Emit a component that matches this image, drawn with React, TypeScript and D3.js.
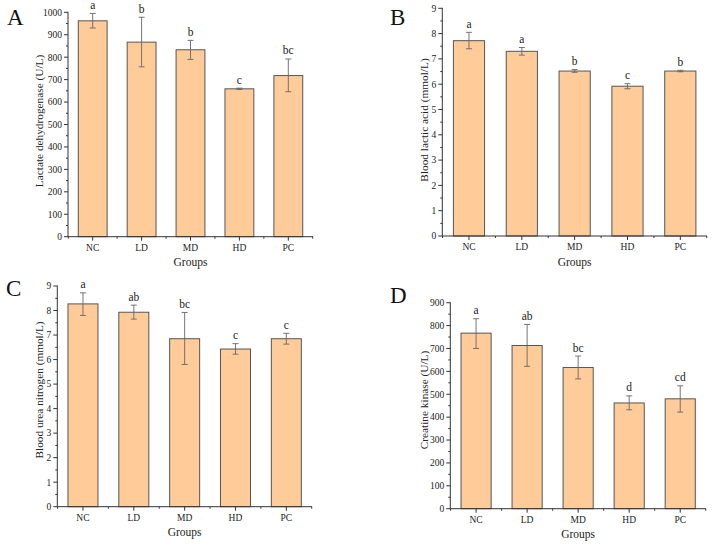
import * as d3 from 'd3';

const groups = ['NC', 'LD', 'MD', 'HD', 'PC'];

const ldhMean = [962, 867, 833, 659, 718];
const ldhLow = [930, 757, 790, 656, 646];
const ldhHigh = [995, 978, 875, 662, 792];
const ldhSig = ['a', 'b', 'b', 'c', 'bc'];

const blaMean = [7.72, 7.3, 6.52, 5.92, 6.52];
const blaLow = [7.4, 7.15, 6.47, 5.82, 6.49];
const blaHigh = [8.05, 7.45, 6.58, 6.02, 6.55];
const blaSig = ['a', 'a', 'b', 'c', 'b'];

const bunMean = [8.27, 7.93, 6.85, 6.43, 6.85];
const bunLow = [7.8, 7.65, 5.8, 6.22, 6.63];
const bunHigh = [8.72, 8.22, 7.92, 6.65, 7.07];
const bunSig = ['a', 'ab', 'bc', 'c', 'c'];

const ckMean = [767, 713, 617, 462, 480];
const ckLow = [700, 622, 567, 432, 422];
const ckHigh = [830, 805, 667, 493, 537];
const ckSig = ['a', 'ab', 'bc', 'd', 'cd'];

const FONT = '"Liberation Serif", "Times New Roman", serif';

type PanelProps = {
  letter: string;
  letterX: number;
  letterY: number;
  yLabel: string;
  mean: number[];
  low: number[];
  high: number[];
  sig: string[];
  yMax: number;
  yStep: number;
  left: number;
  right: number;
  top: number;
  bottom: number;
  labelX: number;
  labelY: number;
};

const Panel = (p: PanelProps) => {
  const x = d3.scaleBand<string>()
    .domain(groups)
    .range([p.left, p.right])
    .paddingInner(0.41)
    .paddingOuter(0.21);
  const y = d3.scaleLinear().domain([0, p.yMax]).range([p.bottom, p.top]);
  const majors = d3.range(0, p.yMax + p.yStep / 2, p.yStep);
  const minors = d3.range(p.yStep / 2, p.yMax, p.yStep);
  const step = x.step();
  const bw = x.bandwidth();
  const centers = groups.map(g => (x(g) as number) + bw / 2);
  const xMinor = [centers[0] - step / 2, ...centers.map(c => c + step / 2)];
  const ink = '#333';

  return (
    <g fontFamily={FONT}>
      <text x={p.letterX} y={p.letterY} fontSize={23} fill="#111">{p.letter}</text>
      {groups.map((g, i) => (
        <rect key={g} x={x(g)} y={y(p.mean[i])} width={bw}
          height={p.bottom - y(p.mean[i])} fill="#FFCC99" stroke="#555" strokeWidth={1} />
      ))}
      {groups.map((g, i) => {
        const cx = centers[i];
        return (
          <g key={'e' + g} stroke="#666" strokeWidth={0.9}>
            <line x1={cx} x2={cx} y1={y(p.low[i])} y2={y(p.high[i])} />
            <line x1={cx - 3} x2={cx + 3} y1={y(p.low[i])} y2={y(p.low[i])} />
            <line x1={cx - 3} x2={cx + 3} y1={y(p.high[i])} y2={y(p.high[i])} />
          </g>
        );
      })}
      {groups.map((g, i) => (
        <text key={'s' + g} x={centers[i]} y={y(p.high[i]) - 4.5} textAnchor="middle"
          fontSize={11.5} fill="#222">{p.sig[i]}</text>
      ))}
      <line x1={p.left} x2={p.left} y1={p.top - 0.5} y2={p.bottom} stroke={ink} strokeWidth={1} />
      <line x1={p.left} x2={p.right} y1={p.bottom} y2={p.bottom} stroke={ink} strokeWidth={1} />
      {majors.map(v => (
        <g key={'y' + v}>
          <line x1={p.left - 4} x2={p.left} y1={y(v)} y2={y(v)} stroke={ink} />
          <text x={p.left - 6} y={y(v)} dy="0.35em" textAnchor="end" fontSize={9.5} fill="#222">{v}</text>
        </g>
      ))}
      {minors.map(v => (
        <line key={'m' + v} x1={p.left - 2} x2={p.left} y1={y(v)} y2={y(v)} stroke={ink} />
      ))}
      {groups.map((g, i) => (
        <g key={'x' + g}>
          <line x1={centers[i]} x2={centers[i]} y1={p.bottom} y2={p.bottom + 4} stroke={ink} />
          <text x={centers[i]} y={p.bottom + 14} textAnchor="middle" fontSize={9.5} fill="#222">{g}</text>
        </g>
      ))}
      {xMinor.map((v, i) => (
        <line key={'xm' + i} x1={v} x2={v} y1={p.bottom} y2={p.bottom + 2} stroke={ink} />
      ))}
      <text x={(p.left + p.right) / 2} y={p.bottom + 29.5} textAnchor="middle" fontSize={11.5} fill="#222">Groups</text>
      <text transform={`translate(${p.labelX},${p.labelY}) rotate(-90)`}
        textAnchor="middle" fontSize={11.3} fill="#222">{p.yLabel}</text>
    </g>
  );
};

export default function App() {
  return (
    <svg width={713} height={548} style={{ display: 'block', position: 'absolute', left: 0, top: 0 }}>
      <rect width={713} height={548} fill="#fff" />
      <Panel letter="A" letterX={7} letterY={25} yLabel="Lactate dehydrogenase (U/L)"
        mean={ldhMean} low={ldhLow} high={ldhHigh} sig={ldhSig}
        yMax={1000} yStep={100} left={68} right={313} top={12.3} bottom={236.7} labelX={43} labelY={121} />
      <Panel letter="B" letterX={390} letterY={25} yLabel="Blood lactic acid (mmol/L)"
        mean={blaMean} low={blaLow} high={blaHigh} sig={blaSig}
        yMax={9} yStep={1} left={442.3} right={707} top={8.3} bottom={236} labelX={428} labelY={120} />
      <Panel letter="C" letterX={6} letterY={296} yLabel="Blood urea nitrogen (mmol/L)"
        mean={bunMean} low={bunLow} high={bunHigh} sig={bunSig}
        yMax={9} yStep={1} left={57.3} right={312} top={286} bottom={506.7} labelX={43} labelY={390} />
      <Panel letter="D" letterX={390} letterY={303} yLabel="Creatine kinase (U/L)"
        mean={ckMean} low={ckLow} high={ckHigh} sig={ckSig}
        yMax={900} yStep={100} left={450.3} right={706} top={302.7} bottom={508.7} labelX={428} labelY={400} />
    </svg>
  );
}
